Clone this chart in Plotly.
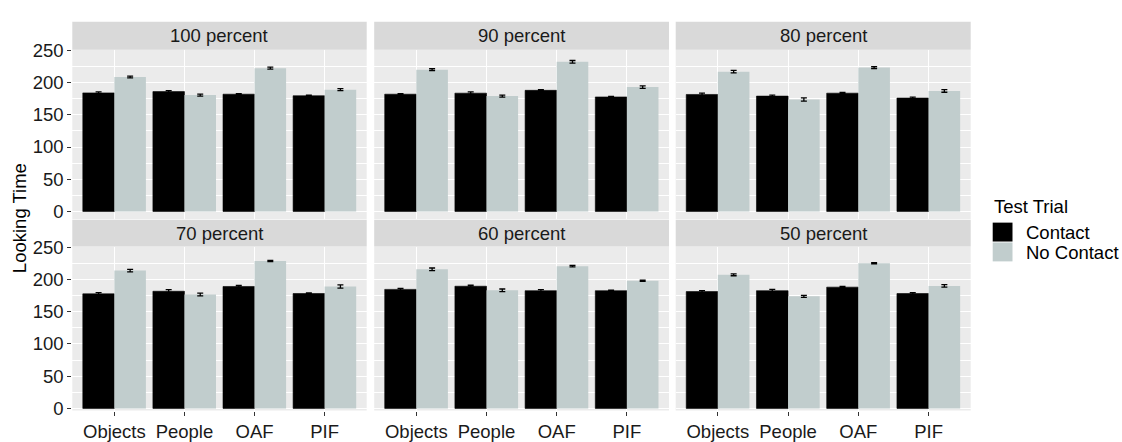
import plotly.graph_objects as go

W, H = 1122, 442

categories = ["Objects", "People", "OAF", "PIF"]
panels = ["100 percent", "90 percent", "80 percent", "70 percent", "60 percent", "50 percent"]

contact_100 = [184.0, 186.0, 182.0, 179.6]
nocontact_100 = [208.7, 180.6, 222.4, 189.0]
contact_90 = [182.0, 183.6, 188.0, 177.7]
nocontact_90 = [220.0, 179.0, 232.3, 193.0]
contact_80 = [181.6, 179.0, 183.6, 176.0]
nocontact_80 = [217.0, 173.7, 223.4, 187.0]
contact_70 = [177.5, 181.5, 188.9, 178.0]
nocontact_70 = [213.5, 176.5, 228.3, 189.0]
contact_60 = [184.4, 189.3, 182.4, 182.4]
nocontact_60 = [215.5, 183.0, 220.4, 197.7]
contact_50 = [181.0, 182.4, 187.9, 178.0]
nocontact_50 = [207.0, 173.6, 224.9, 189.8]

se_contact_100 = [1.5, 1.5, 1.0, 1.0]
se_nocontact_100 = [1.5, 1.5, 1.5, 1.5]
se_contact_90 = [1.0, 2.0, 1.0, 1.0]
se_nocontact_90 = [1.5, 1.5, 2.0, 2.0]
se_contact_80 = [2.0, 1.5, 1.0, 1.5]
se_nocontact_80 = [2.0, 2.5, 1.5, 2.0]
se_contact_70 = [2.0, 2.5, 1.5, 1.0]
se_nocontact_70 = [2.0, 2.0, 1.0, 2.5]
se_contact_60 = [1.5, 1.5, 1.5, 0.8]
se_nocontact_60 = [2.0, 2.0, 1.2, 1.0]
se_contact_50 = [1.5, 2.0, 1.0, 1.5]
se_nocontact_50 = [1.5, 1.5, 1.0, 2.0]

contact = [contact_100, contact_90, contact_80, contact_70, contact_60, contact_50]
nocontact = [nocontact_100, nocontact_90, nocontact_80, nocontact_70, nocontact_60, nocontact_50]
se_contact = [se_contact_100, se_contact_90, se_contact_80, se_contact_70, se_contact_60, se_contact_50]
se_nocontact = [se_nocontact_100, se_nocontact_90, se_nocontact_80, se_nocontact_70, se_nocontact_60, se_nocontact_50]

y_ticks = [0, 50, 100, 150, 200, 250]

COL_CONTACT = "#000000"
COL_NOCONTACT = "#C1CDCD"
PANEL_BG = "#EBEBEB"
STRIP_BG = "#D9D9D9"
FONT = "Liberation Sans, Arial, sans-serif"
FS = 18.5

# panel geometry in pixels
col_px = [(72.3, 366.7), (374.2, 669.0), (675.7, 970.7)]
row_px = [(41.7, 219.0), (247.8, 419.5)]
strip_px = [(12.3, 41.7), (219.8, 247.8)]
row_range = [[-11.9, 250.9], [-3.25, 250.7]]


def fx(px):
    return px / W


def fy(py):
    return 1 - py / H


fig = go.Figure()
layout = dict(
    width=W, height=H,
    margin=dict(l=0, r=0, t=0, b=0),
    paper_bgcolor="white",
    plot_bgcolor=PANEL_BG,
    barmode="group",
    bargap=0.1,
    bargroupgap=0,
    showlegend=False,
    font=dict(family=FONT, size=FS, color="#1A1A1A"),
)
shapes = []
annotations = []

for i, name in enumerate(panels):
    r, c = divmod(i, 3)
    k = i + 1
    xa = "x" if k == 1 else f"x{k}"
    ya = "y" if k == 1 else f"y{k}"
    x0, x1 = col_px[c]
    y0, y1 = row_px[r]

    fig.add_trace(go.Bar(
        x=categories, y=contact[i], name="Contact",
        marker=dict(color=COL_CONTACT, line=dict(color="black", width=0.6)),
        error_y=dict(type="data", array=se_contact[i], color="black", thickness=1.3, width=3),
        xaxis=xa, yaxis=ya, offsetgroup="a",
    ))
    fig.add_trace(go.Bar(
        x=categories, y=nocontact[i], name="No Contact",
        marker=dict(color=COL_NOCONTACT, line=dict(width=0)),
        error_y=dict(type="data", array=se_nocontact[i], color="black", thickness=1.3, width=3),
        xaxis=xa, yaxis=ya, offsetgroup="b",
    ))

    layout[f"xaxis{'' if k == 1 else k}"] = dict(
        domain=[fx(x0), fx(x1)], anchor=ya,
        range=[-0.6, 3.6], type="category",
        showgrid=True, gridcolor="white", gridwidth=1.1,
        showticklabels=(r == 1), ticks="outside" if r == 1 else "",
        ticklen=4, tickcolor="#333333", tickwidth=1.1,
        tickfont=dict(size=FS, color="#1A1A1A"),
        showline=False, zeroline=False,
    )
    layout[f"yaxis{'' if k == 1 else k}"] = dict(
        domain=[fy(y1), fy(y0)], anchor=xa,
        range=row_range[r],
        tickvals=y_ticks,
        showgrid=True, gridcolor="white", gridwidth=1.1,
        minor=dict(dtick=25, tick0=25, showgrid=True, gridcolor="white", gridwidth=0.5, ticks=""),
        showticklabels=(c == 0), ticks="outside" if c == 0 else "",
        ticklen=4, tickcolor="#333333", tickwidth=1.1,
        tickfont=dict(size=FS, color="#1A1A1A"),
        showline=False, zeroline=False,
    )

    # facet strip
    s0, s1 = strip_px[r]
    shapes.append(dict(type="rect", xref="paper", yref="paper",
                       x0=fx(x0), x1=fx(x1), y0=fy(s1), y1=fy(s0),
                       fillcolor=STRIP_BG, line=dict(width=0), layer="below"))
    annotations.append(dict(text=name, xref="paper", yref="paper",
                            x=fx((x0 + x1) / 2), y=fy((s0 + s1) / 2),
                            xanchor="center", yanchor="middle", showarrow=False,
                            font=dict(size=FS, color="#1A1A1A")))

# shared y-axis title
annotations.append(dict(text="Looking Time", xref="paper", yref="paper",
                        x=fx(19), y=fy(218), textangle=-90,
                        xanchor="center", yanchor="middle", showarrow=False,
                        font=dict(size=FS, color="black")))

# legend
annotations.append(dict(text="Test Trial", xref="paper", yref="paper",
                        x=fx(992), y=fy(206), xanchor="left", yanchor="middle",
                        showarrow=False, font=dict(size=FS, color="black")))
legend_items = [("Contact", COL_CONTACT), ("No Contact", COL_NOCONTACT)]
for j, (lab, col) in enumerate(legend_items):
    top = 222.7 + j * 20.8
    shapes.append(dict(type="rect", xref="paper", yref="paper",
                       x0=fx(992.7), x1=fx(1012.5), y0=fy(top + 19.8), y1=fy(top),
                       fillcolor=col, line=dict(width=0)))
    annotations.append(dict(text=lab, xref="paper", yref="paper",
                            x=fx(1024), y=fy(top + 10), xanchor="left", yanchor="middle",
                            showarrow=False, font=dict(size=FS, color="black")))

layout["shapes"] = shapes
layout["annotations"] = annotations
fig.update_layout(**layout)

fig.write_html("out.html")
